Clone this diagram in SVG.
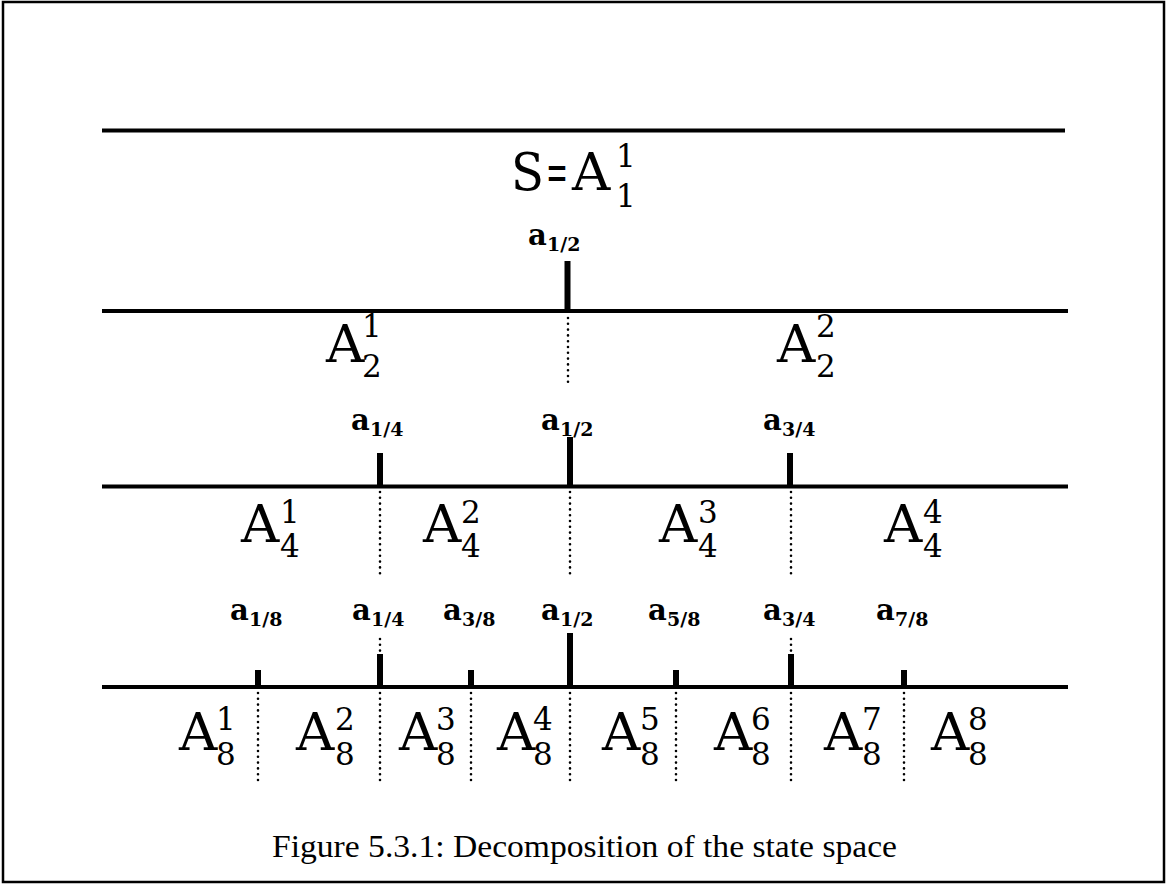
<svg xmlns="http://www.w3.org/2000/svg" width="1167" height="885" viewBox="0 0 1167 885">
<style>
.ln{stroke:#000;stroke-width:4;fill:none}
.tk{stroke:#000;stroke-width:6;fill:none}
.dt{stroke:#000;stroke-width:2.6;stroke-linecap:round;stroke-dasharray:0 5.8;fill:none}
.A{font-family:"DejaVu Serif","Liberation Serif",serif;font-size:53px;fill:#000}
.n{font-family:"DejaVu Serif","Liberation Serif",serif;font-size:31px;fill:#000}
.a{font-family:"DejaVu Serif","Liberation Serif",serif;font-size:29px;font-weight:bold;fill:#000}
.s{font-family:"DejaVu Serif","Liberation Serif",serif;font-size:19px;font-weight:bold;fill:#000}
.cap{font-family:"Liberation Serif","DejaVu Serif",serif;font-size:31px;fill:#000}
</style>
<rect x="3" y="2" width="1161" height="880" fill="#fff" stroke="#000" stroke-width="2.5"/>
<g id="connectors">
<line class="ln" x1="102" y1="130.5" x2="1065" y2="130.5"/>
<line class="ln" x1="102" y1="311" x2="1068" y2="311"/>
<line class="ln" x1="102" y1="486.5" x2="1068" y2="486.5"/>
<line class="ln" x1="102" y1="687" x2="1068" y2="687"/>
<line class="tk" x1="567.5" y1="261" x2="567.5" y2="311"/>
<line class="tk" x1="380" y1="453" x2="380" y2="486"/>
<line class="tk" x1="570" y1="437" x2="570" y2="486"/>
<line class="tk" x1="790" y1="453" x2="790" y2="486"/>
<line class="tk" x1="258" y1="670" x2="258" y2="687"/>
<line class="tk" x1="380" y1="654" x2="380" y2="687"/>
<line class="tk" x1="471" y1="670" x2="471" y2="687"/>
<line class="tk" x1="570" y1="633" x2="570" y2="687"/>
<line class="tk" x1="676" y1="670" x2="676" y2="687"/>
<line class="tk" x1="791" y1="654" x2="791" y2="687"/>
<line class="tk" x1="904" y1="670" x2="904" y2="687"/>
<line class="dt" x1="568" y1="318" x2="568" y2="385"/>
<line class="dt" x1="380" y1="492" x2="380" y2="577"/>
<line class="dt" x1="570" y1="492" x2="570" y2="577"/>
<line class="dt" x1="791" y1="492" x2="791" y2="577"/>
<line class="dt" x1="380" y1="639" x2="380" y2="651"/>
<line class="dt" x1="791" y1="639" x2="791" y2="651"/>
<line class="dt" x1="258" y1="693" x2="258" y2="783"/>
<line class="dt" x1="380" y1="693" x2="380" y2="783"/>
<line class="dt" x1="471" y1="693" x2="471" y2="783"/>
<line class="dt" x1="570" y1="693" x2="570" y2="783"/>
<line class="dt" x1="676" y1="693" x2="676" y2="783"/>
<line class="dt" x1="791" y1="693" x2="791" y2="783"/>
<line class="dt" x1="904" y1="693" x2="904" y2="783"/>
</g>
<g id="S">
<text class="A" x="511" y="190" textLength="33" lengthAdjust="spacingAndGlyphs">S</text>
<text class="A" x="546" y="190" textLength="22" lengthAdjust="spacingAndGlyphs">=</text>
<text class="A" x="572" y="190">A</text>
<text class="n" x="616" y="167">1</text>
<text class="n" x="616" y="207">1</text>
</g>
<g id="row2">
<g id="A21"><text class="A" x="326" y="362">A</text><text class="n" x="362" y="337">1</text><text class="n" x="362" y="377">2</text></g>
<g id="A22"><text class="A" x="777" y="362">A</text><text class="n" x="816" y="337">2</text><text class="n" x="816" y="377">2</text></g>
<g id="a2_12"><text class="a" x="528" y="245">a</text><text class="s" x="547" y="251">1/2</text></g>
</g>
<g id="row3">
<g id="a3_14"><text class="a" x="351" y="430">a</text><text class="s" x="370" y="436">1/4</text></g>
<g id="a3_12"><text class="a" x="541" y="430">a</text><text class="s" x="560" y="436">1/2</text></g>
<g id="a3_34"><text class="a" x="763" y="430">a</text><text class="s" x="782" y="436">3/4</text></g>
<g id="A41"><text class="A" x="241" y="542">A</text><text class="n" x="280" y="523">1</text><text class="n" x="280" y="557">4</text></g>
<g id="A42"><text class="A" x="423" y="542">A</text><text class="n" x="461" y="523">2</text><text class="n" x="461" y="557">4</text></g>
<g id="A43"><text class="A" x="659" y="542">A</text><text class="n" x="698" y="523">3</text><text class="n" x="698" y="557">4</text></g>
<g id="A44"><text class="A" x="884" y="542">A</text><text class="n" x="923" y="523">4</text><text class="n" x="923" y="557">4</text></g>
</g>
<g id="row4">
<g id="a4_18"><text class="a" x="230" y="620">a</text><text class="s" x="249" y="626">1/8</text></g>
<g id="a4_14"><text class="a" x="352" y="620">a</text><text class="s" x="371" y="626">1/4</text></g>
<g id="a4_38"><text class="a" x="443" y="620">a</text><text class="s" x="462" y="626">3/8</text></g>
<g id="a4_12"><text class="a" x="541" y="620">a</text><text class="s" x="560" y="626">1/2</text></g>
<g id="a4_58"><text class="a" x="648" y="620">a</text><text class="s" x="667" y="626">5/8</text></g>
<g id="a4_34"><text class="a" x="763" y="620">a</text><text class="s" x="782" y="626">3/4</text></g>
<g id="a4_78"><text class="a" x="876" y="620">a</text><text class="s" x="895" y="626">7/8</text></g>
<g id="A81"><text class="A" x="179" y="750">A</text><text class="n" x="216" y="730">1</text><text class="n" x="216" y="765">8</text></g>
<g id="A82"><text class="A" x="296" y="750">A</text><text class="n" x="335" y="730">2</text><text class="n" x="335" y="765">8</text></g>
<g id="A83"><text class="A" x="399" y="750">A</text><text class="n" x="436" y="730">3</text><text class="n" x="436" y="765">8</text></g>
<g id="A84"><text class="A" x="497" y="750">A</text><text class="n" x="533" y="730">4</text><text class="n" x="533" y="765">8</text></g>
<g id="A85"><text class="A" x="602" y="750">A</text><text class="n" x="640" y="730">5</text><text class="n" x="640" y="765">8</text></g>
<g id="A86"><text class="A" x="714" y="750">A</text><text class="n" x="751" y="730">6</text><text class="n" x="751" y="765">8</text></g>
<g id="A87"><text class="A" x="824" y="750">A</text><text class="n" x="862" y="730">7</text><text class="n" x="862" y="765">8</text></g>
<g id="A88"><text class="A" x="931" y="750">A</text><text class="n" x="968" y="730">8</text><text class="n" x="968" y="765">8</text></g>
</g>
<text class="cap" x="584.5" y="857" text-anchor="middle" textLength="625" lengthAdjust="spacingAndGlyphs">Figure 5.3.1: Decomposition of the state space</text>
</svg>
